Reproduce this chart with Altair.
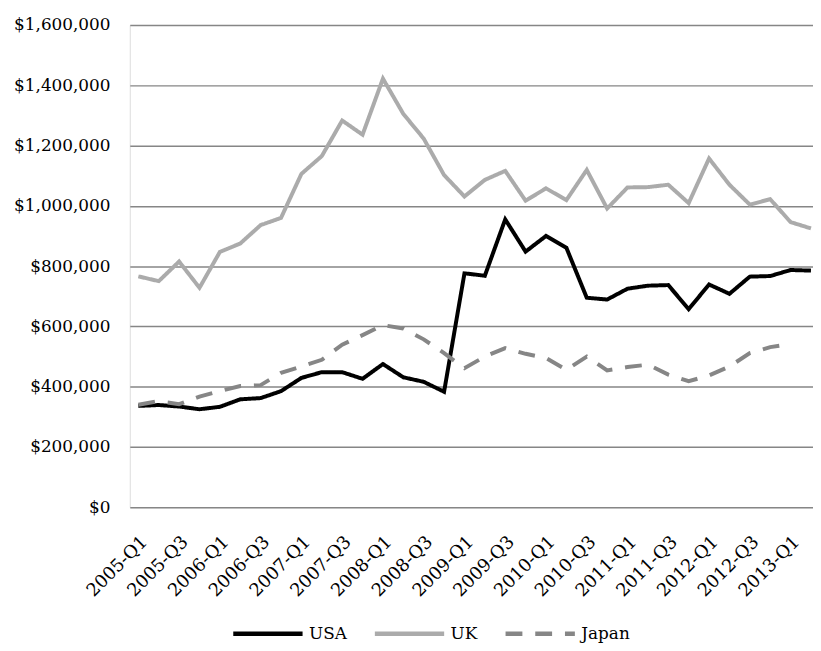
import altair as alt
import pandas as pd

quarters = [f"{y}-Q{q}" for y in range(2005, 2014) for q in range(1, 5)][:34]

usa = [336000, 339000, 334000, 325000, 333000, 358000, 362000, 385000, 429000, 448000,
       448000, 426000, 475000, 431000, 416000, 383000, 776000, 768000, 955000, 848000,
       900000, 861000, 695000, 689000, 725000, 735000, 737000, 657000, 739000, 708000,
       765000, 767000, 787000, 785000]

uk = [766000, 750000, 815000, 728000, 847000, 875000, 936000, 960000, 1106000, 1165000,
      1283000, 1236000, 1422000, 1305000, 1223000, 1102000, 1031000, 1086000, 1116000, 1017000,
      1058000, 1019000, 1119000, 991000, 1061000, 1062000, 1070000, 1009000, 1157000, 1070000,
      1004000, 1022000, 946000, 925000]

japan = [340000, 352000, 342000, 367000, 385000, 402000, 405000, 446000, 467000, 489000,
         539000, 571000, 604000, 593000, 557000, 511000, 461000, 500000, 528000, 509000,
         495000, 456000, 500000, 454000, 465000, 473000, 440000, 418000, 437000, 467000,
         511000, 531000, 541000, None]

series = ["USA", "UK", "Japan"]
colors = ["#000000", "#ababab", "#868686"]
dashes = [[1, 0], [1, 0], [17, 13]]

rows = []
for name, vals in zip(series, [usa, uk, japan]):
    for i, v in enumerate(vals):
        rows.append({"idx": i, "quarter": quarters[i], "series": name, "value": v})
df = pd.DataFrame(rows)

label_expr = "[" + ",".join(f"'{q}'" for q in quarters) + "][datum.value]"
FONT = "DejaVu Serif"

legend_cfg = dict(title=None, orient="none", direction="horizontal",
                  legendX=102, legendY=577, columns=3, gridAlign="each",
                  symbolType="stroke", symbolSize=4900,
                  symbolStrokeWidth=4.5, labelOffset=4,
                  columnPadding=18, labelFont=FONT, labelFontSize=17,
                  labelColor="#000000")

chart = alt.Chart(df).mark_line(strokeWidth=4).encode(
    x=alt.X("idx:Q",
            scale=alt.Scale(domain=[-0.42, 33.1], nice=False, zero=False),
            axis=alt.Axis(title=None, values=list(range(0, 34, 2)), labelExpr=label_expr,
                          labelAngle=-45, labelAlign="right", labelBaseline="middle",
                          labelPadding=32, labelOffset=6, grid=False, ticks=False,
                          domain=False, labelFont=FONT, labelFontSize=18,
                          labelColor="#000000", labelOverlap=False, labelFlush=False,
                          labelBound=False)),
    y=alt.Y("value:Q",
            scale=alt.Scale(domain=[0, 1600000], nice=False),
            axis=alt.Axis(title=None, values=list(range(0, 1600001, 200000)), format="$,.0f",
                          grid=True, gridColor="#868686", gridWidth=1.5, ticks=False,
                          domain=False, labelPadding=20, labelFont=FONT, labelFontSize=17,
                          labelColor="#000000")),
    color=alt.Color("series:N", scale=alt.Scale(domain=series, range=colors),
                    legend=alt.Legend(**legend_cfg)),
    strokeDash=alt.StrokeDash("series:N", scale=alt.Scale(domain=series, range=dashes),
                              legend=alt.Legend(**legend_cfg)),
    order=alt.Order("idx:Q"),
).properties(
    width=690, height=487,
    autosize=alt.AutoSizeParams(type="none"),
    padding={"left": 123, "top": 14, "right": 0, "bottom": 134},
).configure_view(stroke=None).configure(background="#ffffff")

chart.save("out.html", embed_options={"renderer": "svg", "actions": False})
